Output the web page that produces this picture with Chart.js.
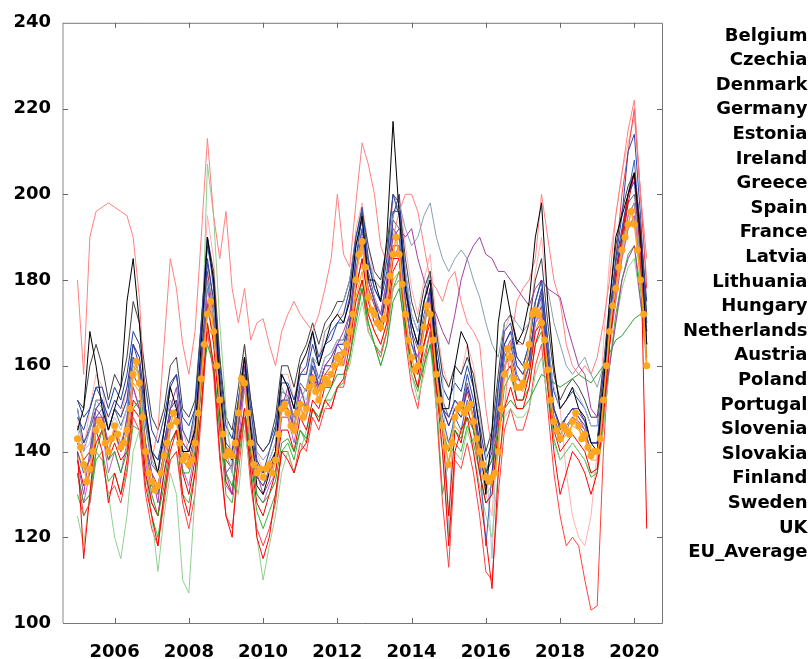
<!DOCTYPE html>
<html><head><meta charset="utf-8">
<script src="https://cdn.jsdelivr.net/npm/chart.js@4"></script>
<style>html,body{margin:0;padding:0;background:#fff}#c{display:block}</style>
</head><body>
<canvas id="c" width="809" height="659"></canvas>
<script>
// ---------- data ----------
const startYear = 2005;          // first observation (January 2005)
const countryStepMonths = 2;     // country series sampled every 2 months
const euStepMonths = 1;          // EU average sampled monthly
const yTickValues = [100, 120, 140, 160, 180, 200, 220, 240];
const xTickYears = [2006, 2008, 2010, 2012, 2014, 2016, 2018, 2020];
const seriesNames = ["Belgium","Czechia","Denmark","Germany","Estonia","Ireland","Greece","Spain","France","Latvia","Lithuania","Hungary","Netherlands","Austria","Poland","Portugal","Slovenia","Slovakia","Finland","Sweden","UK","EU_Average"];

const belgium = [145,150,168,160,150,145, 150,155,175,185,170,150, 140,135,145,155,150,140, 140,145,165,190,180,155, 140,138,150,162,145,132, 130,135,140,158,155,150, 160,163,168,160,165,170, 172,170,175,188,195,180, 180,175,190,217,195,178, 170,165,175,180,162,150, 150,160,168,165,155,145, 130,145,170,180,172,165, 168,175,190,198,175,160, 150,152,155,150,148,142, 140,155,175,190,195,200, 205,190,165];
const czechia = [140,115,130,145,140,128, 135,130,138,150,148,132, 125,118,130,140,145,130, 125,135,150,170,160,140, 125,120,140,150,135,120, 115,120,130,140,138,135, 140,142,150,147,152,150, 155,157,165,175,180,172, 168,165,170,182,185,170, 160,155,165,170,155,140, 118,140,145,148,140,130, 120,108,135,150,155,150, 150,155,165,170,155,140, 130,135,140,138,135,130, 135,148,165,180,190,200, 205,190,122];
const denmark = [148,145,150,155,152,145, 150,148,152,165,160,148, 140,138,145,155,158,145, 142,150,170,190,178,158, 142,140,152,162,150,138, 135,140,145,158,155,150, 158,160,168,162,165,168, 170,172,178,190,197,185, 178,175,185,200,195,180, 170,165,175,180,162,150, 148,152,150,158,152,142, 135,140,155,168,170,162, 160,165,175,180,165,150, 145,148,150,148,146,142, 142,158,172,185,195,210, 214,195,170];
const germany = [135,128,130,140,145,138, 140,135,140,150,152,140, 130,125,132,142,145,135, 135,140,155,165,160,145, 135,132,140,150,140,130, 128,130,133,142,143,140, 145,143,150,148,152,155, 158,158,162,170,178,170, 165,160,165,175,178,168, 160,155,160,165,155,145, 140,145,143,148,145,140, 135,138,145,150,152,150, 150,152,155,158,157,156, 155,156,157,158,157,156, 158,160,163,166,167,169, 171,172,170];
const estonia = [138,130,140,150,148,142, 145,140,148,155,150,142, 135,128,140,150,155,142, 140,145,160,175,170,150, 135,130,145,160,145,135, 130,133,140,150,155,145, 155,150,158,155,160,162, 165,168,172,182,190,180, 175,172,180,190,192,190, 192,185,180,175,172,168, 165,172,180,185,188,190, 186,185,182,182,180,178, 176,174,178,180,178,177, 176,170,165,160,158,150, 148,150,160,170,180,185, 188,175,165];
const ireland = [150,140,145,152,150,145, 150,148,152,160,158,148, 138,135,145,152,150,140, 142,148,165,180,175,158, 140,135,150,162,150,140, 138,140,145,155,152,148, 152,155,162,160,168,170, 172,175,180,190,195,185, 180,178,185,195,198,192, 188,190,195,198,190,185, 182,185,187,185,180,176, 170,165,162,170,172,170, 168,170,175,180,178,170, 165,160,158,160,162,158, 155,160,170,180,188,195, 198,185,170];
const greece = [180,158,190,196,197,198, 197,196,195,190,176,150, 138,145,165,185,178,165, 158,168,190,213,195,185, 196,178,170,178,166,170, 171,165,160,168,172,175, 172,170,168,172,178,185, 200,186,183,198,212,207, 200,188,184,190,196,200, 200,196,188,180,178,175, 180,182,175,170,168,165, 150,140,145,150,165,175, 178,180,185,200,190,180, 175,165,160,158,160,158, 162,170,180,195,205,215, 222,200,185];
const spain = [150,142,145,150,152,148, 152,150,155,165,162,150, 140,138,142,150,152,142, 140,145,160,185,175,155, 140,138,148,158,146,137, 135,137,140,152,152,148, 152,150,160,155,160,160, 165,165,170,185,195,180, 175,170,178,195,200,178, 168,160,170,178,160,150, 146,150,148,155,150,140, 132,135,150,165,168,160, 158,162,172,178,162,150, 146,148,150,150,147,142, 142,155,170,182,190,200, 203,188,168];
const france = [138,132,135,142,145,138, 142,138,140,152,150,135, 128,125,135,142,145,135, 130,138,155,175,165,148, 133,130,142,150,138,128, 125,130,135,145,145,140, 148,145,152,150,155,155, 160,162,168,178,185,175, 170,168,172,185,185,170, 160,158,165,172,155,145, 125,145,142,150,145,135, 128,130,145,158,160,152, 152,158,168,170,158,145, 140,142,144,142,140,135, 136,150,165,178,188,198, 205,185,160];
const latvia = [140,135,138,148,150,140, 145,140,148,162,158,142, 132,130,138,148,150,138, 136,143,162,180,170,150, 135,137,147,158,143,134, 132,136,138,152,150,145, 155,150,162,155,160,162, 165,163,170,182,192,180, 175,170,178,192,190,175, 165,160,168,178,158,148, 142,148,145,152,148,138, 118,135,148,162,165,158, 155,160,172,176,160,148, 142,145,148,146,144,140, 140,152,168,180,190,200, 208,190,165];
const lithuania = [125,118,130,140,138,130, 120,115,125,140,145,135, 125,112,125,135,130,110, 107,130,160,207,195,170, 150,135,130,145,135,120, 110,118,125,135,140,135, 140,145,150,148,150,152, 155,157,160,168,175,168, 165,160,165,178,180,168, 158,152,158,165,150,140, 120,140,138,145,140,132, 125,120,135,148,150,148, 148,150,158,162,152,142, 138,140,142,140,138,135, 135,145,160,170,178,183, 185,175,160];
const hungary = [135,128,135,148,145,135, 140,135,142,155,150,138, 128,125,135,145,148,136, 132,140,160,178,170,150, 132,130,142,155,140,130, 128,132,135,148,148,142, 150,148,158,152,158,158, 162,160,168,178,185,175, 172,170,178,185,188,175, 165,162,170,176,160,150, 148,152,150,155,150,142, 135,138,150,160,162,155, 155,160,170,172,160,150, 145,148,150,148,145,140, 140,150,165,175,185,192, 195,182,165];
const netherlands = [152,150,160,165,160,152, 158,155,162,175,170,158, 148,145,150,160,162,150, 148,152,170,190,182,162, 148,145,155,165,152,142, 140,142,148,160,160,155, 162,165,170,165,170,172, 175,175,180,190,196,188, 182,180,188,200,198,185, 175,170,178,182,168,158, 155,160,158,162,158,150, 140,145,158,170,172,166, 165,170,180,185,170,158, 152,155,157,155,152,148, 148,160,175,188,196,202, 205,192,172];
const austria = [145,140,142,150,152,145, 148,145,150,160,158,148, 140,135,142,150,152,142, 140,145,160,178,172,155, 140,138,148,158,147,138, 135,138,142,152,152,147, 154,152,160,156,162,163, 166,165,170,182,188,180, 176,172,180,190,192,182, 172,168,175,182,168,158, 122,160,158,162,156,148, 140,115,152,162,165,160, 158,162,170,175,165,155, 150,152,155,153,150,146, 146,155,168,178,186,192, 195,185,170];
const poland = [135,125,128,140,138,130, 132,128,135,148,145,130, 122,118,128,138,140,128, 122,130,148,168,158,138, 125,122,135,148,132,122, 118,122,128,140,140,135, 142,140,148,145,150,150, 155,155,162,172,178,168, 165,162,168,178,180,166, 155,150,160,168,150,128, 113,138,136,142,135,125, 112,110,130,145,150,145, 145,150,160,165,150,135, 125,118,120,118,110,103, 104,140,165,185,200,210, 220,200,178];
const portugal = [152,148,150,155,155,150, 155,152,158,168,165,155, 145,142,148,156,158,148, 146,150,168,188,180,160, 146,143,152,162,152,142, 140,142,146,156,156,152, 158,158,165,160,165,166, 170,170,176,188,194,184, 178,175,182,196,196,182, 172,168,175,182,165,155, 152,156,154,160,155,146, 138,142,155,165,168,162, 160,165,175,180,166,154, 150,152,154,152,150,146, 146,158,172,184,192,200, 205,192,175];
const slovenia = [130,125,128,138,140,133, 135,130,136,146,145,135, 125,120,130,138,140,130, 128,135,150,170,160,145, 130,128,138,148,136,126, 122,126,130,140,142,138, 145,142,150,147,152,152, 155,156,162,172,180,170, 165,163,168,178,182,168, 158,154,162,168,152,130, 138,142,140,146,142,135, 128,130,142,155,158,152, 152,155,165,168,155,143, 138,140,142,140,138,134, 135,146,160,172,180,186, 188,178,162];
const slovakia = [148,140,150,158,155,145, 150,148,155,165,162,150, 140,135,145,155,158,145, 140,148,168,195,185,162, 145,140,150,165,152,140, 135,140,145,158,158,152, 160,158,168,162,168,170, 172,172,178,192,198,188, 180,178,186,198,200,188, 178,172,180,186,170,160, 155,160,158,165,160,150, 130,125,150,168,172,165, 165,170,182,190,175,160, 150,135,125,120,118,125, 140,165,185,195,205,212, 218,200,180];
const finland = [142,138,140,148,148,140, 145,142,146,158,155,142, 135,132,140,148,150,140, 138,144,162,182,172,152, 138,136,146,156,144,134, 132,135,140,150,150,146, 152,150,158,154,158,160, 163,163,170,182,188,178, 174,170,176,188,188,175, 165,162,170,176,160,150, 146,150,148,154,148,140, 132,134,148,160,163,157, 156,160,170,174,160,148, 144,146,148,147,145,140, 140,152,167,178,188,195, 198,183,162];
const sweden = [140,136,138,146,146,140, 144,140,144,156,154,140, 132,130,138,146,148,138, 136,142,158,174,166,150, 138,136,146,155,142,134, 132,135,138,148,148,144, 150,148,156,152,156,158, 160,160,166,176,182,172, 168,165,170,180,182,168, 160,158,165,172,155,145, 142,146,144,150,145,138, 130,132,146,158,160,155, 154,158,168,172,158,146, 142,144,146,145,143,138, 138,150,165,176,185,192, 195,180,160];
const uk = [146,142,146,152,152,145, 150,146,150,162,160,146, 137,135,142,150,152,142, 140,146,164,184,175,155, 141,140,150,160,147,137, 135,138,142,154,153,148, 156,154,162,157,162,163, 166,166,172,185,192,182, 176,172,180,194,192,178, 168,164,172,178,162,152, 148,152,150,156,150,142, 135,138,152,163,166,160, 158,162,172,177,163,150, 146,148,150,149,147,142, 142,154,170,182,191,198, 200,188,168];
const euAverage = [
 143,141,137,133,136,140,145,147,146,142,140,143,
 146,144,141,142,145,150,158,161,156,148,140,135,
 133,131,132,135,139,142,146,149,147,142,138,139,
 137,138,142,149,157,165,172,175,168,160,152,144,
 139,140,139,142,149,157,156,149,142,137,135,136,
 134,136,137,135,138,144,150,151,149,146,145,149,
 151,148,150,155,157,154,152,155,157,156,158,160,
 162,161,163,165,168,172,180,186,189,183,176,173,
 172,170,169,171,175,181,186,190,186,179,172,166,
 162,159,160,164,169,174,172,166,158,152,146,141,
 137,142,148,150,151,149,150,151,147,143,140,137,
 134,133,134,135,140,150,158,164,162,157,155,155,
 156,160,165,172,173,172,170,166,159,152,147,145,
 143,146,145,144,147,149,146,143,144,141,139,140,
 140,143,152,160,168,174,178,183,187,190,193,196,
 193,187,180,172,160];

const countrySeries = [belgium, czechia, denmark, germany, estonia, ireland, greece, spain, france, latvia, lithuania, hungary, netherlands, austria, poland, portugal, slovenia, slovakia, finland, sweden, uk];
const seriesColors = ["#000000","#ff0000","#2b47a6","#2ca02c","#a040a0","#8aa0b0","#ff8080","#333399","#e60000","#4060c0","#90d090","#c060c0","#404040","#b0c0d0","#ff4040","#1f3f9f","#3cb43c","#ffb0b0","#b03030","#f0a020","#606080"];
const euColor = "#ffa520";

// ---------- build datasets ----------
const toPoints = (arr, step) => arr.map((v, i) => ({x: startYear + i * step / 12, y: v}));
const datasets = countrySeries.map((arr, k) => ({
  label: seriesNames[k],
  data: toPoints(arr, countryStepMonths),
  borderColor: seriesColors[k],
  backgroundColor: seriesColors[k],
  borderWidth: 1,
  pointRadius: 0,
  tension: 0
}));
datasets.push({
  label: seriesNames[21],
  data: toPoints(euAverage, euStepMonths),
  borderColor: euColor,
  backgroundColor: euColor,
  borderWidth: 1.5,
  pointRadius: 3.5,
  pointBorderWidth: 0,
  pointBackgroundColor: euColor,
  order: -1,
  tension: 0
});

const FONT = "'DejaVu Sans', Verdana, sans-serif";

// frame + inward tick marks
const framePlugin = {
  id: 'frame',
  afterDatasetsDraw(chart) {
    const {ctx, chartArea: a, scales: {x, y}} = chart;
    ctx.save();
    ctx.strokeStyle = '#c4c4c4';
    ctx.lineWidth = 2;
    ctx.beginPath(); ctx.moveTo(a.left, a.top); ctx.lineTo(a.left, a.bottom); ctx.stroke();
    ctx.lineWidth = 1;
    ctx.strokeStyle = '#777777';
    ctx.beginPath();
    ctx.moveTo(a.left, a.top + 0.5); ctx.lineTo(a.right + 0.5, a.top + 0.5);
    ctx.lineTo(a.right + 0.5, a.bottom + 0.5); ctx.lineTo(a.left, a.bottom + 0.5);
    ctx.stroke();
    ctx.strokeStyle = '#666666';
    ctx.beginPath();
    x.ticks.forEach(t => {
      const px = Math.round(x.getPixelForValue(t.value)) + 0.5;
      ctx.moveTo(px, a.bottom); ctx.lineTo(px, a.bottom - 5);
      ctx.moveTo(px, a.top); ctx.lineTo(px, a.top + 5);
    });
    y.ticks.forEach(t => {
      if (t.value <= y.min || t.value >= y.max) return;
      const py = Math.round(y.getPixelForValue(t.value)) + 0.5;
      ctx.moveTo(a.left, py); ctx.lineTo(a.left + 5, py);
      ctx.moveTo(a.right, py); ctx.lineTo(a.right - 5, py);
    });
    ctx.stroke();
    ctx.restore();
  }
};

// right-aligned text legend (names only)
const legendPlugin = {
  id: 'textLegend',
  afterDraw(chart) {
    const {ctx} = chart;
    ctx.save();
    ctx.font = "bold 18px " + FONT;
    ctx.fillStyle = '#000';
    ctx.textAlign = 'right';
    ctx.textBaseline = 'alphabetic';
    chart.data.datasets.forEach((ds, i) => {
      ctx.fillText(ds.label, 807.5, 40.5 + i * 24.6);
    });
    ctx.restore();
  }
};

new Chart(document.getElementById('c'), {
  type: 'line',
  data: {datasets},
  plugins: [framePlugin, legendPlugin],
  options: {
    responsive: false,
    animation: false,
    devicePixelRatio: 1,
    layout: {padding: {top: 18, right: 147, bottom: 0, left: 0}},
    plugins: {legend: {display: false}, tooltip: {enabled: false}},
    elements: {line: {fill: false}},
    scales: {
      x: {
        type: 'linear',
        min: 2004.61,
        max: 2020.745,
        afterFit: s => { s.height = 36; },
        afterBuildTicks: s => { s.ticks = xTickYears.map(v => ({value: v})); },
        grid: {display: false, drawTicks: false},
        border: {display: false},
        ticks: {
          padding: 19,
          color: '#000',
          font: {family: FONT, size: 18, weight: 'bold'},
          maxRotation: 0,
          autoSkip: false,
          callback: v => String(v)
        }
      },
      y: {
        type: 'linear',
        min: 100,
        max: 240,
        afterFit: s => { s.width = 63; },
        afterBuildTicks: s => { s.ticks = yTickValues.map(v => ({value: v})); },
        grid: {display: false, drawTicks: false},
        border: {display: false},
        ticks: {
          padding: 12,
          color: '#000',
          font: {family: FONT, size: 18, weight: 'bold'},
          callback: v => String(v)
        }
      }
    }
  }
});
</script>
</body></html>
